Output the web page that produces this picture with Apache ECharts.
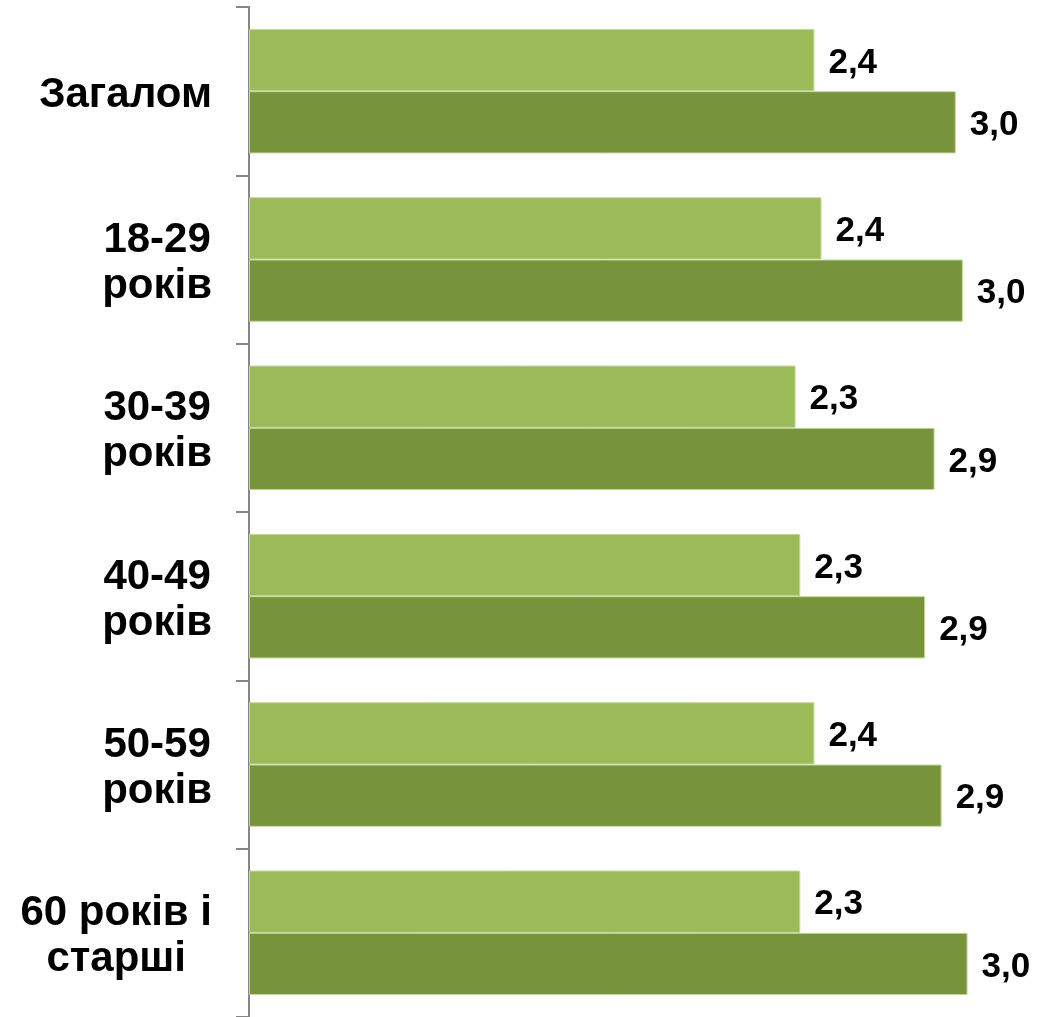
<!DOCTYPE html>
<html>
<head>
<meta charset="utf-8">
<script src="https://cdn.jsdelivr.net/npm/echarts@6/dist/echarts.min.js"></script>
<style>
    html, body { margin: 0; padding: 0; background: #fff; }
    #chart { width: 1056px; height: 1017px; }
</style>
</head>
<body>
<div id="chart"></div>
<script>
// categories, top to bottom
const categories = ['Загалом', '18-29\nроків', '30-39\nроків', '40-49\nроків', '50-59\nроків', '60 років і\nстарші']
// light bars (upper in each group)
const seriesLight = [2.40, 2.43, 2.32, 2.34, 2.40, 2.34]
// dark bars (lower in each group)
const seriesDark = [3.00, 3.03, 2.91, 2.87, 2.94, 3.05]

const font = "'Liberation Sans', Arial, sans-serif"

const valueLabel = {
    show: true,
    position: 'right',
    distance: 14,
    offset: [0, 3],
    color: '#000',
    fontSize: 35,
    fontWeight: 'bold',
    fontFamily: font,
    formatter: p => p.value.toFixed(1).replace('.', ',')
}

const chart = echarts.init(document.getElementById('chart'))
chart.setOption({
    animation: false,
    backgroundColor: '#fff',
    grid: {
        left: 249,
        right: 6,
        top: 7,
        bottom: -4
    },
    xAxis: {
        type: 'value',
        min: 0,
        max: 3.4,
        show: false
    },
    yAxis: {
        type: 'category',
        inverse: true,
        data: categories,
        axisLine: {
            show: true,
            lineStyle: { color: '#868686', width: 2 }
        },
        axisTick: {
            show: true,
            inside: false,
            alignWithLabel: false,
            length: 13,
            lineStyle: { color: '#868686', width: 2 }
        },
        axisLabel: {
            margin: 37,
            align: 'right',
            padding: [8, 0, 0, 0],
            // lines centred inside a right-aligned block
            formatter: v => v.split('\n').map(l => '{c|' + l + '}').join('\n'),
            rich: {
                c: {
                    align: 'center',
                    color: '#000',
                    fontSize: 42,
                    fontWeight: 'bold',
                    fontFamily: font,
                    lineHeight: 46
                }
            }
        },
        splitLine: { show: false }
    },
    series: [{
        name: 'light',
        type: 'bar',
        data: seriesLight,
        barGap: '0%',
        barCategoryGap: '26%',
        itemStyle: {
            color: '#9BBB59',
            borderColor: '#C4D79B',
            borderWidth: 1
        },
        label: valueLabel
    }, {
        name: 'dark',
        type: 'bar',
        data: seriesDark,
        barGap: '0%',
        barCategoryGap: '26%',
        itemStyle: {
            color: '#77933C',
            borderColor: '#C4D79B',
            borderWidth: 1
        },
        label: valueLabel
    }]
})
</script>
</body>
</html>
